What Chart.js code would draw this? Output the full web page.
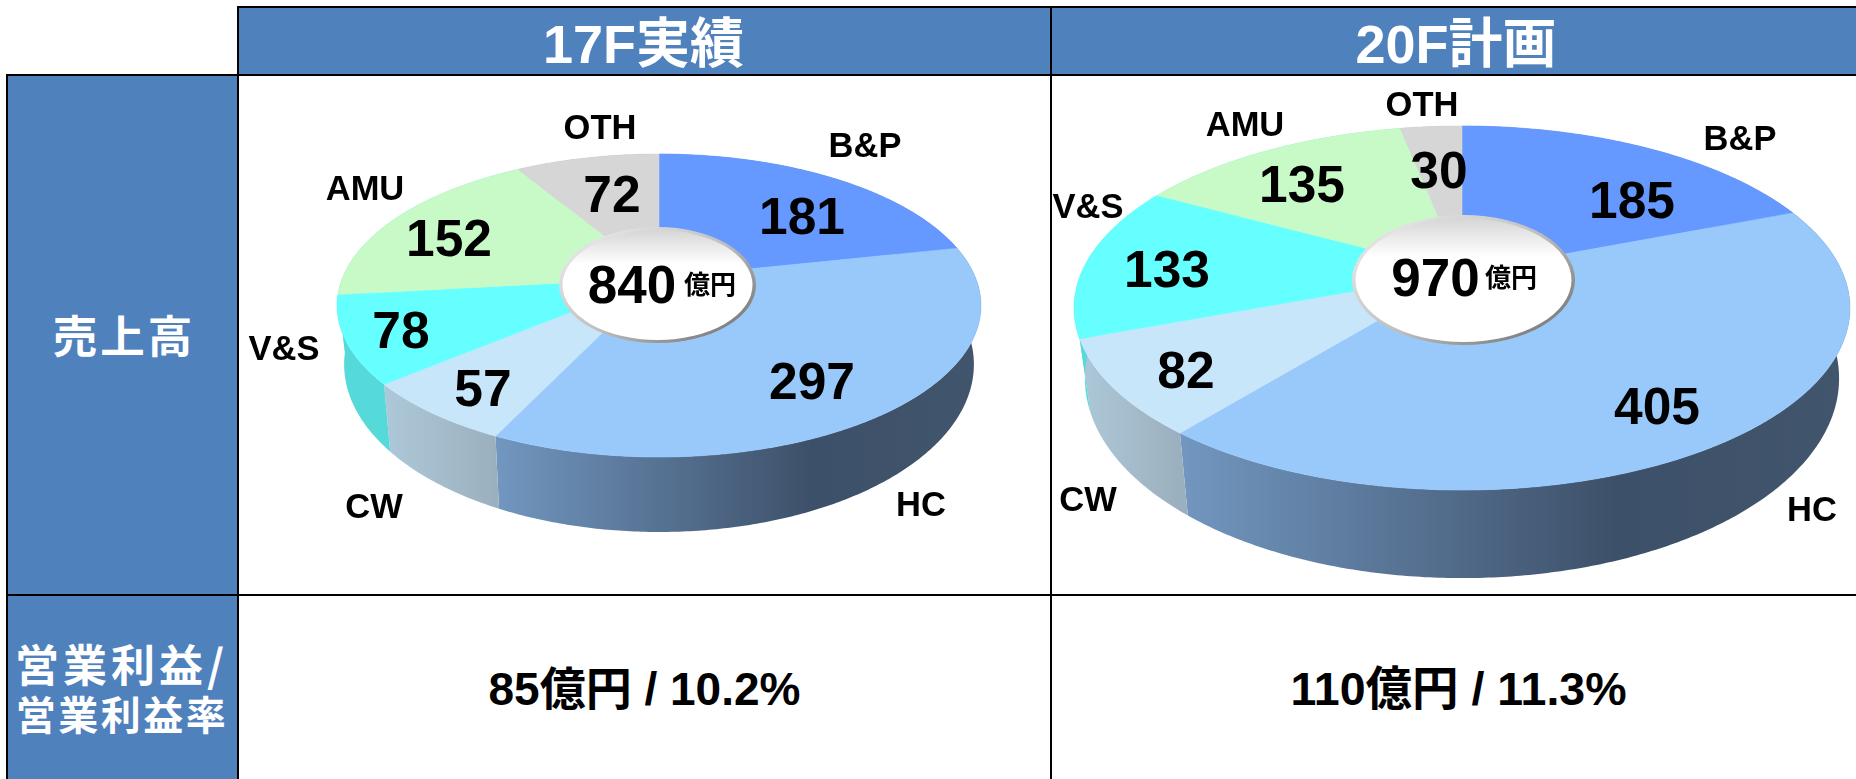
<!DOCTYPE html>
<html lang="ja">
<head>
<meta charset="utf-8">
<title>売上高</title>
<script src="https://cdn.jsdelivr.net/npm/chart.js@4"></script>
<style>
	html, body { margin: 0; padding: 0; background: #fff; overflow: hidden; }
	#page { position: relative; width: 1856px; height: 779px; overflow: hidden; font-family: "Liberation Sans", "Noto Sans CJK JP", sans-serif; }
	.box, .line, canvas, .txt { position: absolute; }
	.box { background: #4f81bd; }
	.line { background: #000; }
	.txt { transform: translate(-50%, -50%); white-space: nowrap; line-height: 1; font-weight: 700; color: #000; }
	.head { color: #fff; }
	.side { color: #fff; font-family: "Noto Sans CJK JP", sans-serif; font-weight: 700; }
</style>
</head>
<body>
<div id="page"></div>
<script>
const categories = ["B&P", "HC", "CW", "V&S", "AMU", "OTH"];
const sales17F = [181, 297, 57, 78, 152, 72];
const sales20F = [185, 405, 82, 133, 135, 30];
const totals = ["840", "970"];
const columnTitles = ["17F実績", "20F計画"];
const rowTitles = ["売上高", "営業利益/", "営業利益率"];
const profitTexts = ["85億円 / 10.2%", "110億円 / 11.3%"];

const topColors = ["#6699ff", "#99c9fa", "#c8e6fa", "#66ffff", "#c8fac8", "#d6d6d6"];
const wallColors = [
	["#4a6fb8", "#4a6fb8"],
	["#7297c0", "#3d5069", "#41556c"],
	["#aec8d9", "#9bb0be"],
	["#55d9d9", "#55d9d9"],
	["#55d9d9", "#55d9d9"],
	["#a0a0a0", "#a0a0a0"]
];

// pie geometry, page pixels. k is the perspective foreshortening of the disc
// s/sy/d place the lower rim of the wall
const pie17 = { left: 240, top: 76, width: 810, height: 518, cx: 659, y0: 278, A: 316.6, B: 146.5, k: 0.1816, s: 0.978, sy: 1.106, d: 56, hole: [657.5, 285, 98.5, 58] };
const pie20 = { left: 1053, top: 76, width: 803, height: 518, cx: 1462, y0: 272.5, A: 380.5, B: 175.1, k: 0.195, s: 0.972, sy: 1.097, d: 67, hole: [1463.5, 280, 111.5, 65] };

// label centres, same order as categories
const valuePos17 = [[802, 217], [812, 382], [483, 389], [401, 331], [449, 239], [612, 195]];
const valuePos20 = [[1632, 201], [1657, 407], [1186, 371], [1167, 270], [1302, 185], [1439, 171]];
const namePos17 = [[865, 145], [921, 504], [374, 506], [284, 348], [365, 188], [600, 127]];
const namePos20 = [[1740, 138], [1812, 509], [1088, 499], [1088, 206], [1245, 124], [1422, 104]];

const page = document.getElementById("page");

function addBox(cls, x, y, w, h) {
	const el = document.createElement("div");
	el.className = cls;
	el.style.cssText = `left:${x}px;top:${y}px;width:${w}px;height:${h}px`;
	page.appendChild(el);
}

function addText(text, x, y, size, cls, spacing) {
	const el = document.createElement("div");
	el.className = "txt " + (cls || "");
	el.textContent = text;
	el.style.left = x + "px";
	el.style.top = y + "px";
	el.style.fontSize = size + "px";
	if (spacing) el.style.letterSpacing = spacing + "px";
	page.appendChild(el);
}

// table background and grid
addBox("box", 238, 7, 1618, 67);
addBox("box", 7, 74, 231, 705);
addBox("line", 238, 6, 1618, 2);
addBox("line", 6, 74, 1850, 2);
addBox("line", 6, 594, 1850, 2);
addBox("line", 6, 74, 2, 705);
addBox("line", 237, 6, 2, 773);
addBox("line", 1050, 6, 2, 773);

function point(g, angle, s, sy, d) {
	const u = Math.sin(angle), v = Math.cos(angle), w = 1 + g.k * v;
	return [g.cx + s * g.A * u / w, g.y0 + d - sy * g.B * v / w];
}

function drawWalls(ctx, g, arcs) {
	arcs.forEach((arc, i) => {
		const start = arc.startAngle + Math.PI / 2, end = arc.endAngle + Math.PI / 2;
		const upper = [], lower = [];
		const steps = Math.max(4, Math.ceil((end - start) / 0.01));
		for (let n = 0; n <= steps; n++) {
			const a = start + (end - start) * n / steps;
			upper.push(point(g, a, 1, 1, 0));
			lower.push(point(g, a, g.s, g.sy, g.d));
		}
		const xs = upper.map(p => p[0]);
		const grad = ctx.createLinearGradient(Math.min(...xs), 0, Math.max(...xs), 0);
		const stops = wallColors[i];
		if (stops.length == 3) {
			grad.addColorStop(0, stops[0]);
			grad.addColorStop(0.65, stops[1]);
			grad.addColorStop(1, stops[2]);
		} else {
			grad.addColorStop(0, stops[0]);
			grad.addColorStop(1, stops[1]);
		}
		ctx.beginPath();
		upper.forEach((p, n) => n ? ctx.lineTo(p[0], p[1]) : ctx.moveTo(p[0], p[1]));
		lower.reverse().forEach(p => ctx.lineTo(p[0], p[1]));
		ctx.closePath();
		ctx.fillStyle = grad;
		ctx.fill();
	});
}

function drawTop(ctx, g, arcs) {
	arcs.forEach((arc, i) => {
		const start = arc.startAngle + Math.PI / 2, end = arc.endAngle + Math.PI / 2;
		const steps = Math.max(4, Math.ceil((end - start) / 0.01));
		ctx.beginPath();
		ctx.moveTo(g.cx, g.y0);
		for (let n = 0; n <= steps; n++) {
			const p = point(g, start + (end - start) * n / steps, 1, 1, 0);
			ctx.lineTo(p[0], p[1]);
		}
		ctx.closePath();
		ctx.fillStyle = topColors[i];
		ctx.strokeStyle = topColors[i];
		ctx.lineWidth = 0.6;
		ctx.fill();
		ctx.stroke();
	});
}

function drawHole(ctx, hole) {
	const [x, y, rx, ry] = hole;
	const rim = ctx.createLinearGradient(x - rx * 0.4, y - ry, x + rx * 0.4, y + ry);
	rim.addColorStop(0, "#e2e2e2");
	rim.addColorStop(0.55, "#bdbdbd");
	rim.addColorStop(1, "#848484");
	ctx.beginPath();
	ctx.ellipse(x, y, rx, ry, 0, 0, Math.PI * 2);
	ctx.fillStyle = rim;
	ctx.fill();
	const face = ctx.createLinearGradient(0, y - ry, 0, y + ry);
	face.addColorStop(0, "#d2d2d2");
	face.addColorStop(0.32, "#ffffff");
	face.addColorStop(1, "#ffffff");
	ctx.beginPath();
	ctx.ellipse(x, y, rx - 3.5, ry - 3, 0, 0, Math.PI * 2);
	ctx.fillStyle = face;
	ctx.fill();
}

// replaces the flat arcs with a tilted disc, angles still come from the pie controller
const tiltedPie = {
	id: "tiltedPie",
	beforeDatasetsDraw(chart, args, opts) {
		const g = opts.geometry;
		const ctx = chart.ctx;
		const arcs = chart.getDatasetMeta(0).data;
		ctx.save();
		ctx.translate(-g.left, -g.top);
		drawWalls(ctx, g, arcs);
		drawTop(ctx, g, arcs);
		drawHole(ctx, g.hole);
		ctx.restore();
		return false;
	}
};

function buildPie(g, values) {
	const canvas = document.createElement("canvas");
	canvas.style.left = g.left + "px";
	canvas.style.top = g.top + "px";
	page.appendChild(canvas);
	canvas.width = g.width;
	canvas.height = g.height;
	new Chart(canvas, {
		type: "pie",
		data: {
			labels: categories,
			datasets: [{ data: values, backgroundColor: topColors, borderWidth: 0 }]
		},
		options: {
			responsive: false,
			animation: false,
			plugins: {
				legend: { display: false },
				tooltip: { enabled: false },
				tiltedPie: { geometry: g }
			}
		},
		plugins: [tiltedPie]
	});
}

buildPie(pie17, sales17F);
buildPie(pie20, sales20F);

addText(columnTitles[0], 643.5, 44, 54, "head");
addText(columnTitles[1], 1456, 44, 54, "head");
addText(rowTitles[0], 124, 334, 44.5, "side", 3);
addText(rowTitles[1], 121.5, 663, 44, "side", 4);
addText(rowTitles[2], 122, 713, 40, "side", 2.5);
addText(profitTexts[0], 644.5, 689, 46);
addText(profitTexts[1], 1458.5, 689, 46.5);

categories.forEach((name, i) => {
	addText(String(sales17F[i]), valuePos17[i][0], valuePos17[i][1], 51.5);
	addText(String(sales20F[i]), valuePos20[i][0], valuePos20[i][1], 51.5);
	addText(name, namePos17[i][0], namePos17[i][1], 34.5);
	addText(name, namePos20[i][0], namePos20[i][1], 34.5);
});

addText(totals[0], 632, 284, 53);
addText("億円", 710, 285, 26);
addText(totals[1], 1435.5, 277, 53);
addText("億円", 1511, 278, 26);
</script>
</body>
</html>
